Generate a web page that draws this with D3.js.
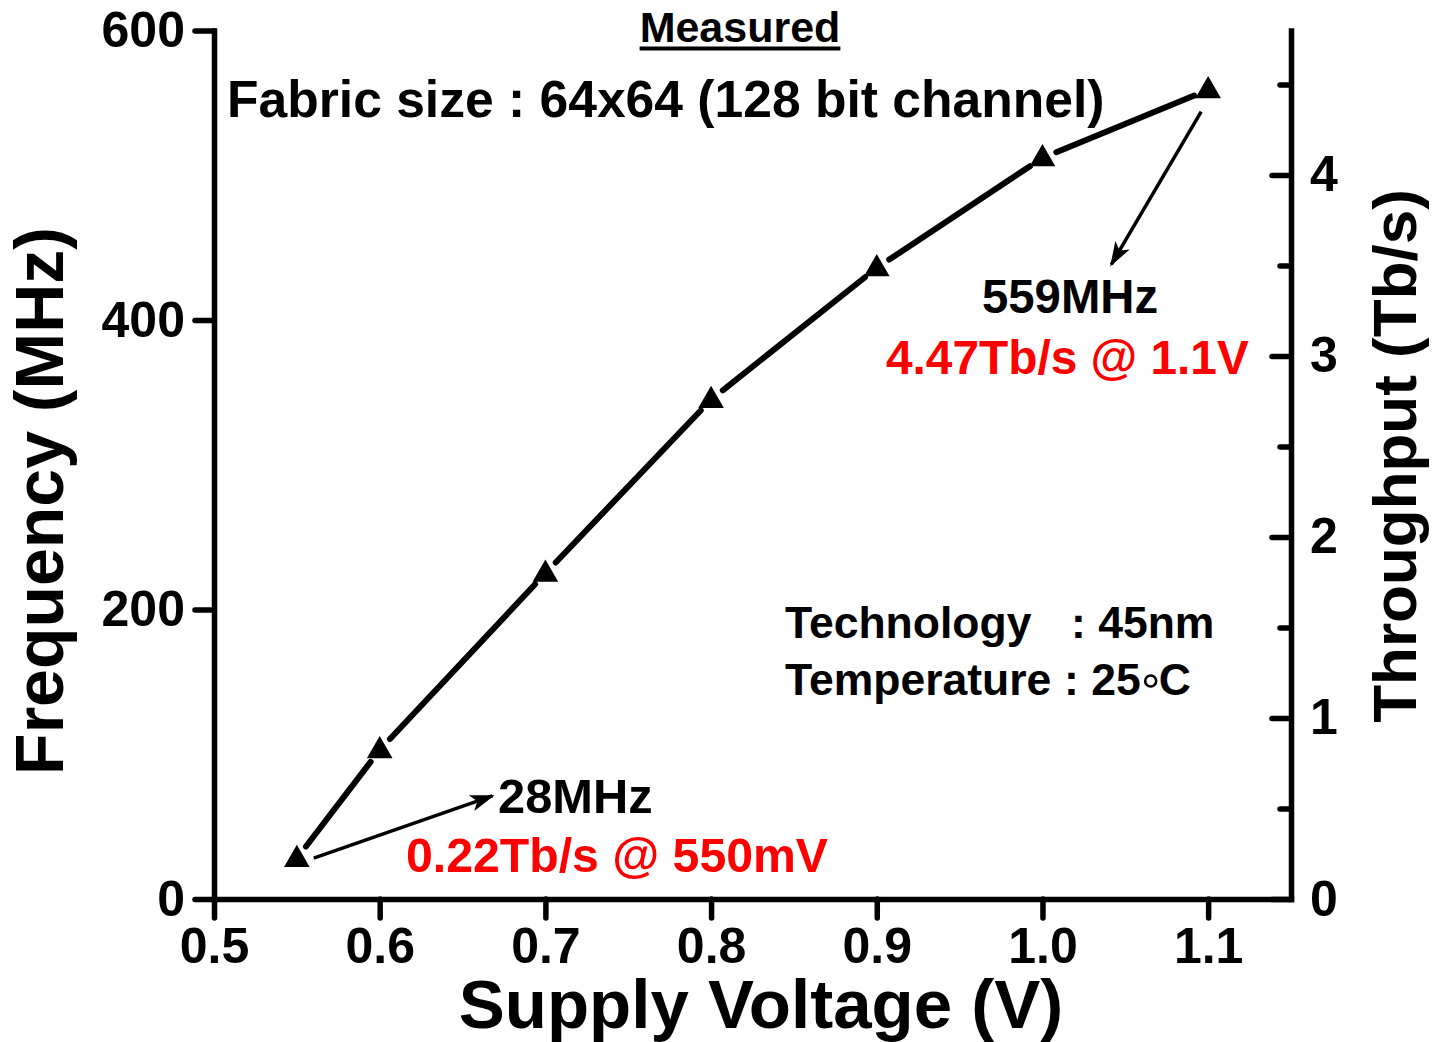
<!DOCTYPE html>
<html>
<head>
<meta charset="utf-8">
<script src="https://cdn.jsdelivr.net/npm/d3@7"></script>
<style>
  body { margin: 0; background: #fff; }
  text { font-family: "Liberation Sans", Arial, Helvetica, sans-serif; font-weight: bold; }
</style>
</head>
<body>
<svg id="chart" width="1433" height="1042"></svg>
<script>
// Measured operating frequency of the 64x64 fabric versus supply voltage
const voltage = [0.55, 0.6, 0.7, 0.8, 0.9, 1.0, 1.1];
const frequency = [28, 103, 225, 345, 436, 512, 559];

// Tick values
const xTicks = [0.5, 0.6, 0.7, 0.8, 0.9, 1.0, 1.1];
const yTicks = [0, 200, 400, 600];
const throughputTicks = [0, 1, 2, 3, 4];
const throughputMinor = [0.5, 1.5, 2.5, 3.5, 4.5];

// Throughput scales with frequency: 4.47 Tb/s at 559 MHz
const tbpsPerMHz = 4.47 / 559;

const svg = d3.select("#chart");
const plotLeft = 214, plotRight = 1291, plotTop = 30.5, plotBottom = 899;

const x = d3.scaleLinear().domain([0.5, 1.15]).range([plotLeft, plotRight]);
const y = d3.scaleLinear().domain([0, 600]).range([plotBottom, plotTop]);
const yR = d3.scaleLinear().domain([0, 600 * tbpsPerMHz]).range([plotBottom, plotTop]);

const AXIS_W = 5.5;
const TICK_FONT = 50;
function styleAxis(g, fontSize) {
  g.select(".domain").attr("stroke", "#000").attr("stroke-width", AXIS_W).attr("stroke-linecap", "square");
  g.selectAll(".tick line").attr("stroke", "#000").attr("stroke-width", AXIS_W).attr("stroke-linecap", "round");
  g.selectAll(".tick text").attr("fill", "#000").style("font-size", fontSize + "px")
    .style("font-family", '"Liberation Sans", Arial, sans-serif').style("font-weight", "bold");
  g.attr("font-family", null).attr("font-size", null);
}

// Bottom axis
const gx = svg.append("g").attr("transform", `translate(0,${plotBottom})`)
  .call(d3.axisBottom(x).tickValues(xTicks).tickSizeInner(19).tickSizeOuter(0).tickPadding(9)
    .tickFormat(d3.format(".1f")));
styleAxis(gx, TICK_FONT);

// Left axis
const gy = svg.append("g").attr("transform", `translate(${plotLeft},0)`)
  .call(d3.axisLeft(y).tickValues(yTicks).tickSizeInner(19).tickSizeOuter(0).tickPadding(10));
styleAxis(gy, TICK_FONT);

// Right axis (throughput), ticks pointing inward
const gyr = svg.append("g").attr("transform", `translate(${plotRight},0)`)
  .call(d3.axisRight(yR).tickValues(throughputTicks).tickSizeInner(-19).tickSizeOuter(0).tickPadding(19)
    .tickFormat(d3.format("d")));
styleAxis(gyr, TICK_FONT);
const gyrMinor = svg.append("g").attr("transform", `translate(${plotRight},0)`)
  .call(d3.axisRight(yR).tickValues(throughputMinor).tickSizeInner(-11).tickSizeOuter(0).tickFormat(""));
styleAxis(gyrMinor, TICK_FONT);
gyrMinor.select(".domain").remove();

// Data line, drawn as segments that stop short of each marker
const pts = voltage.map((v, i) => [x(v), y(frequency[i])]);
const GAP = 15;
const segs = d3.pairs(pts).map(([a, b]) => {
  const dx = b[0] - a[0], dy = b[1] - a[1], L = Math.hypot(dx, dy);
  const ux = dx / L, uy = dy / L;
  return [a[0] + ux * GAP, a[1] + uy * GAP, b[0] - ux * GAP, b[1] - uy * GAP];
});
svg.append("g").selectAll("line").data(segs).join("line")
  .attr("x1", d => d[0]).attr("y1", d => d[1]).attr("x2", d => d[2]).attr("y2", d => d[3])
  .attr("stroke", "#000").attr("stroke-width", 6).attr("stroke-linecap", "round");

// Triangle markers
const tri = d3.symbol().type(d3.symbolTriangle).size(285);
svg.append("g").selectAll("path").data(pts).join("path")
  .attr("d", tri).attr("transform", d => `translate(${d[0]},${d[1] + 1})`).attr("fill", "#000");

// Annotation arrows
const defs = svg.append("defs");
defs.append("marker").attr("id", "arrowhead").attr("viewBox", "0 0 10 10")
  .attr("refX", 9).attr("refY", 5).attr("markerWidth", 7).attr("markerHeight", 7)
  .attr("markerUnits", "strokeWidth").attr("orient", "auto")
  .append("path").attr("d", "M0,1.6 L10,5 L0,8.4 L2.5,5 Z").attr("fill", "#000");

function arrow(v1, f1, v2, f2) {
  svg.append("line")
    .attr("x1", x(v1)).attr("y1", y(f1)).attr("x2", x(v2)).attr("y2", y(f2))
    .attr("stroke", "#000").attr("stroke-width", 3.5).attr("marker-end", "url(#arrowhead)");
}
arrow(1.0958, 544, 1.0416, 438.5);
arrow(0.5602, 28.3, 0.668, 71.2);

// Text helpers
function label(txt, px, py, size, opts = {}) {
  return svg.append("text").attr("x", px).attr("y", py)
    .attr("text-anchor", opts.anchor || "start")
    .attr("fill", opts.color || "#000")
    .style("font-size", size + "px")
    .text(txt);
}

// Title with underline
const title = label("Measured", 740, 42, 43, { anchor: "middle" });
const tb = title.node().getBBox();
svg.append("rect").attr("x", tb.x).attr("y", 46.5).attr("width", tb.width).attr("height", 4).attr("fill", "#000");

label("Fabric size : 64x64 (128 bit channel)", 227, 117, 51.6);

label("559MHz", 982, 313, 47.3);
label("4.47Tb/s @ 1.1V", 886, 374, 47.8, { color: "#ff0000" });
label("28MHz", 498, 813, 48.8);
label("0.22Tb/s @ 550mV", 406, 872, 48.2, { color: "#ff0000" });

// Process / condition notes
const NOTE = 44.5;
label("Technology", 785, 638, NOTE);
label(": 45nm", 1071, 638, NOTE);
label("Temperature", 785, 695, NOTE);
const t25 = label(": 25", 1064, 695, NOTE);
const t25end = 1064 + t25.node().getComputedTextLength();
svg.append("circle").attr("cx", t25end + 10).attr("cy", 681).attr("r", 5.5)
  .attr("fill", "none").attr("stroke", "#000").attr("stroke-width", 2.6);
label("C", t25end + 18, 695, NOTE);

// Axis titles
label("Supply Voltage (V)", 761, 1028, 69, { anchor: "middle" });
svg.append("text").attr("transform", "translate(63,501) rotate(-90)")
  .attr("text-anchor", "middle").style("font-size", "68px").text("Frequency (MHz)");
svg.append("text").attr("transform", "translate(1416,456) rotate(-90)")
  .attr("text-anchor", "middle").style("font-size", "62px").text("Throughput (Tb/s)");
</script>
</body>
</html>
